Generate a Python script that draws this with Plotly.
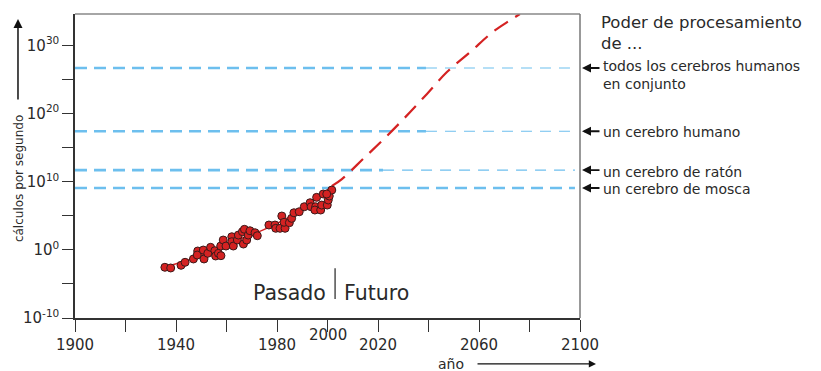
import plotly.graph_objects as go

# ---------------- data ----------------
# observed machines: year and log10(calculations per second)
obs_years = [1935.6, 1937.9, 1942.0, 1943.6, 1946.9, 1948.6, 1948.4, 1950.8, 1951.1, 1952.6,
             1953.7, 1955.4, 1955.7, 1956.8, 1957.8, 1957.7, 1958.7, 1959.8, 1962.1, 1962.1,
             1962.7, 1964.3, 1964.7, 1966.3, 1966.7, 1967.1, 1968.0, 1968.6, 1969.3, 1971.3,
             1972.2, 1976.8, 1979.2, 1979.5, 1981.9, 1981.2, 1983.2, 1982.8, 1984.9, 1985.8,
             1986.7, 1988.8, 1990.8, 1993.1, 1993.5, 1995.3, 1995.7, 1995.0, 1997.3, 1997.7,
             1998.3, 1999.9, 2000.3, 2000.7, 2001.7, 1999.7]
obs_exp = [-2.56, -2.66, -2.27, -1.83, -1.34, -0.17, -0.76, -0.03, -1.34, -0.51,
           0.37, -0.13, -0.90, -0.51, -0.86, 0.56, 1.44, 0.56, 1.92, 1.19,
           0.56, 1.44, 2.17, 2.66, 0.85, 3.01, 1.44, 2.17, 2.80, 2.51,
           2.07, 3.64, 3.64, 3.16, 4.96, 3.16, 3.16, 4.04, 3.98, 4.62,
           5.44, 5.59, 6.32, 6.91, 6.32, 6.32, 7.70, 5.84, 5.84, 6.57,
           8.19, 6.57, 7.31, 7.89, 8.77, 8.19]

# trend through the past
trend_years = [1934.5, 1945, 1961, 1975, 1988, 2002]
trend_exp = [-2.6, -1.5, 1.0, 3.0, 5.5, 9.38]

# projection into the future
proj_years = [2001.8, 2005.7, 2014.5, 2023.2, 2031.1, 2039.4, 2047.3, 2056.4, 2065.5, 2072.3, 2076.2]
proj_exp = [9.38, 10.38, 13.48, 16.58, 19.58, 22.88, 26.08, 28.98, 31.98, 33.68, 34.6]

# brain processing levels (log10 calc/s)
brain_names = ["todos los cerebros humanos<br>en conjunto", "un cerebro humano",
               "un cerebro de ratón", "un cerebro de mosca"]
brain_exp = [26.68, 17.4, 11.7, 9.07]
brain_thick_until = [2039, 2039, 2022, 2098]

x_major_ticks = [1900, 1940, 1980, 2020, 2060, 2100]
x_minor_ticks = [1920, 1960, 2000, 2040, 2080]
y_major_exps = [-10, 0, 10, 20, 30]
y_minor_exps = [-5, 5, 15, 25]

FONT = "DejaVu Sans"
TXT = "#2a2a2a"
BLUE = "#6dbfee"
RED = "#d42222"


def p10(e):
    return 10.0 ** e


fig = go.Figure()

# brain level dashed lines
for e, until in zip(brain_exp, brain_thick_until):
    fig.add_trace(go.Scatter(x=[1900, until], y=[p10(e), p10(e)], mode="lines",
                             line=dict(color=BLUE, width=2.6, dash="12px,7px"),
                             hoverinfo="skip"))
    if until < 2098:
        fig.add_trace(go.Scatter(x=[until, 2098], y=[p10(e), p10(e)], mode="lines",
                                 line=dict(color=BLUE, width=1.2, dash="11px,8px"),
                                 hoverinfo="skip"))

# trend line
fig.add_trace(go.Scatter(x=trend_years, y=[p10(e) for e in trend_exp], mode="lines",
                         line=dict(color=RED, width=1.6, shape="spline"), hoverinfo="skip"))
# projection
fig.add_trace(go.Scatter(x=proj_years, y=[p10(e) for e in proj_exp], mode="lines",
                         line=dict(color=RED, width=2.2, dash="16px,9px", shape="spline"),
                         hoverinfo="skip"))
# observations
fig.add_trace(go.Scatter(x=obs_years, y=[p10(e) for e in obs_exp], mode="markers",
                         marker=dict(size=8, color=RED, line=dict(color="#3a1a1a", width=1))))

annotations = []
# raised 2000 label
annotations.append(dict(x=2000, y=-0.056, xref="x", yref="paper", text="2000", showarrow=False,
                        font=dict(family=FONT, size=15, color=TXT), xanchor="center", yanchor="middle"))

# right-side header
annotations.append(dict(x=1.0376, y=0.937, xref="paper", yref="paper",
                        text="Poder de procesamiento<br>de ...",
                        showarrow=False, xanchor="left", yanchor="middle", align="left",
                        font=dict(family=FONT, size=16.5, color=TXT)))

# level labels with arrows
label_shift = [-7.5, -1, -2, -1]
for name, e, ys in zip(brain_names, brain_exp, label_shift):
    annotations.append(dict(x=1.00396, y=e, xref="paper", yref="y", text="", showarrow=True,
                            ax=19, ay=0, arrowhead=2, arrowsize=1, arrowwidth=1.8,
                            arrowcolor="#111"))
    annotations.append(dict(x=1.0416, y=e, xref="paper", yref="y", text=name, showarrow=False,
                            xanchor="left", yanchor="middle", yshift=ys, align="left",
                            font=dict(family=FONT, size=14, color=TXT)))

# y axis title with arrow
annotations.append(dict(x=-0.111, y=0.46, xref="paper", yref="paper", text="cálculos por segundo",
                        showarrow=False, textangle=-90, xanchor="center", yanchor="middle",
                        font=dict(family=FONT, size=12, color=TXT)))
annotations.append(dict(x=-0.1129, y=0.9836, xref="paper", yref="paper", text="", showarrow=True,
                        ax=0, ay=82, arrowhead=2, arrowsize=1.2, arrowwidth=1.5, arrowcolor="#111"))

# x axis title with arrow
annotations.append(dict(x=0.7455, y=-0.151, xref="paper", yref="paper", text="año", showarrow=False,
                        xanchor="center", yanchor="middle",
                        font=dict(family=FONT, size=14, color=TXT)))
annotations.append(dict(x=1.0317, y=-0.151, xref="paper", yref="paper", text="", showarrow=True,
                        ax=-120, ay=0, arrowhead=2, arrowsize=1.2, arrowwidth=1.2, arrowcolor="#111"))

# Pasado | Futuro
annotations.append(dict(x=2003, y=0.082, xref="x", yref="paper", text="Pasado", showarrow=False,
                        xanchor="right", yanchor="middle", xshift=-7,
                        font=dict(family=FONT, size=20.5, color=TXT)))
annotations.append(dict(x=2003, y=0.082, xref="x", yref="paper", text="Futuro", showarrow=False,
                        xanchor="left", yanchor="middle", xshift=7,
                        font=dict(family=FONT, size=20.5, color=TXT)))

shapes = [
    dict(type="line", xref="x", yref="paper", x0=2003, x1=2003, y0=0.0625, y1=0.164,
         line=dict(color="#222", width=1.2)),
    dict(type="line", xref="paper", yref="paper", x0=0, x1=1, y0=1, y1=1,
         line=dict(color="#888", width=1.5)),
    dict(type="line", xref="paper", yref="paper", x0=1, x1=1, y0=0, y1=1,
         line=dict(color="#777", width=1.5)),
]

fig.update_layout(
    width=821, height=371,
    margin=dict(l=75, r=241, t=14, b=53),
    plot_bgcolor="white", paper_bgcolor="white",
    showlegend=False,
    font=dict(family=FONT, color=TXT),
    annotations=annotations,
    shapes=shapes,
    xaxis=dict(range=[1900, 2100], tickmode="array", tickvals=x_major_ticks,
               ticktext=[str(v) for v in x_major_ticks],
               ticks="outside", ticklen=12, tickwidth=1.3, tickcolor="#333",
               minor=dict(tickmode="array", tickvals=x_minor_ticks, ticks="outside",
                          ticklen=12, tickwidth=1.3, tickcolor="#333", showgrid=False),
               showline=True, linecolor="#333", linewidth=1.5, showgrid=False, zeroline=False,
               tickfont=dict(family=FONT, size=15, color=TXT)),
    yaxis=dict(type="log", range=[-10, 34.6], tickmode="array",
               tickvals=[p10(k) for k in y_major_exps],
               ticktext=["10<sup>%d</sup>" % k for k in y_major_exps],
               ticks="outside", ticklen=11, tickwidth=1.3, tickcolor="#333",
               minor=dict(tickmode="array", tickvals=[p10(k) for k in y_minor_exps], ticks="outside",
                          ticklen=11, tickwidth=1.3, tickcolor="#333", showgrid=False),
               showline=True, linecolor="#333", linewidth=1.5, showgrid=False, zeroline=False,
               tickfont=dict(family=FONT, size=15, color=TXT)),
)

fig.write_html("out.html")
